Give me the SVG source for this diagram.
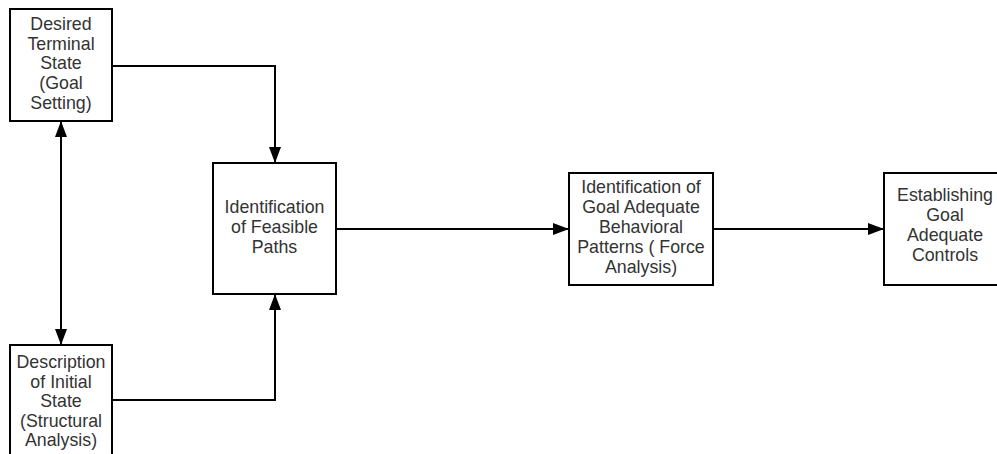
<svg xmlns="http://www.w3.org/2000/svg" width="997" height="454" viewBox="0 0 997 454">
<defs>
<marker id="arr" markerWidth="16" markerHeight="12" refX="16" refY="6" orient="auto-start-reverse" markerUnits="userSpaceOnUse">
<path d="M0,0 L16,6 L0,12 Z" fill="#000"/>
</marker>
<style>
.box{fill:#fff;stroke:#000;stroke-width:2}
.t{font-family:"Liberation Sans",Arial,sans-serif;font-size:17.8px;fill:#333;text-anchor:middle}
.c{fill:none;stroke:#000;stroke-width:2}
</style>
</defs>
<rect width="997" height="454" fill="#fff"/>
<g id="connectors">
<path class="c" d="M112,66 H275 V163" marker-end="url(#arr)"/>
<path class="c" d="M112,400 H275 V294" marker-end="url(#arr)"/>
<path class="c" d="M336,229 H569" marker-end="url(#arr)"/>
<path class="c" d="M713,229 H884" marker-end="url(#arr)"/>
<path class="c" d="M61,121 V345" marker-start="url(#arr)" marker-end="url(#arr)"/>
</g>
<g id="goal">
<rect class="box" x="10" y="9" width="102" height="112"/>
<text class="t" x="61" y="30">Desired</text>
<text class="t" x="61" y="50">Terminal</text>
<text class="t" x="61" y="69">State</text>
<text class="t" x="61" y="89">(Goal</text>
<text class="t" x="61" y="109">Setting)</text>
</g>
<g id="initial">
<rect class="box" x="10" y="345" width="102" height="120"/>
<text class="t" x="61" y="368">Description</text>
<text class="t" x="61" y="388">of Initial</text>
<text class="t" x="61" y="407">State</text>
<text class="t" x="61" y="427">(Structural</text>
<text class="t" x="61" y="446">Analysis)</text>
</g>
<g id="paths">
<rect class="box" x="213" y="163" width="123" height="131"/>
<text class="t" x="274.5" y="213">Identification</text>
<text class="t" x="274.5" y="233">of Feasible</text>
<text class="t" x="274.5" y="253">Paths</text>
</g>
<g id="patterns">
<rect class="box" x="569" y="173" width="144" height="112"/>
<text class="t" x="641" y="193">Identification of</text>
<text class="t" x="641" y="213">Goal Adequate</text>
<text class="t" x="641" y="233">Behavioral</text>
<text class="t" x="641" y="253">Patterns ( Force</text>
<text class="t" x="641" y="273">Analysis)</text>
</g>
<g id="controls">
<rect class="box" x="884" y="173" width="122" height="112"/>
<text class="t" x="945" y="201">Establishing</text>
<text class="t" x="945" y="221">Goal</text>
<text class="t" x="945" y="241">Adequate</text>
<text class="t" x="945" y="261">Controls</text>
</g>
</svg>
